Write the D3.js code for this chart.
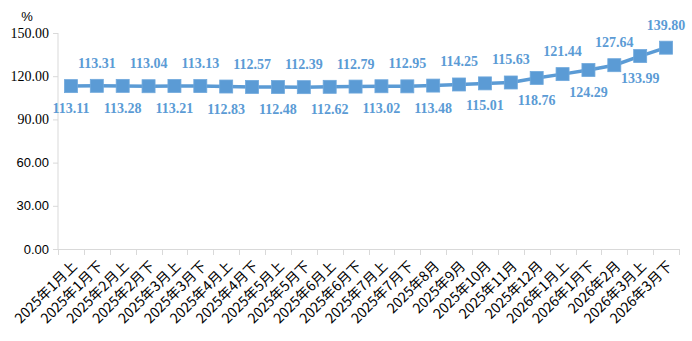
<!DOCTYPE html>
<html><head><meta charset="utf-8">
<script src="https://cdn.jsdelivr.net/npm/d3@7"></script>
<style>body{margin:0;background:#fff;}</style>
</head><body>
<svg id="c" width="692" height="341"></svg>
<script>
const categories = ["2025年1月上","2025年1月下","2025年2月上","2025年2月下","2025年3月上","2025年3月下","2025年4月上","2025年4月下","2025年5月上","2025年5月下","2025年6月上","2025年6月下","2025年7月上","2025年7月下","2025年8月","2025年9月","2025年10月","2025年11月","2025年12月","2026年1月上","2026年1月下","2026年2月","2026年3月上","2026年3月下"];
const values = [113.11,113.31,113.28,113.04,113.21,113.13,112.83,112.57,112.48,112.39,112.62,112.79,113.02,112.95,113.48,114.25,115.01,115.63,118.76,121.44,124.29,127.64,133.99,139.80];
const yTicks = [0,30,60,90,120,150];
const unitLabel = "%";

const svg = d3.select("#c");
const color = "#5b9bd5";
const x = d3.scaleBand().domain(categories).range([58, 679]).padding(0);
const y = d3.scaleLinear().domain([0,150]).range([249, 33]);

// y axis
const ya = svg.append("g").attr("transform","translate(58,0)")
  .call(d3.axisLeft(y).tickValues(yTicks).tickFormat(d3.format(".2f")).tickSize(5).tickPadding(4));
ya.select(".domain").attr("stroke","#d9d9d9").attr("d","M0,33V249");
ya.selectAll(".tick line").attr("stroke","#d9d9d9");
ya.selectAll(".tick text").attr("fill","#000")
  .style("font-family", d => d >= 90 ? "'Liberation Serif', serif" : "'Liberation Sans', sans-serif")
  .style("font-size", d => d >= 90 ? "14px" : "13px");

svg.append("text").attr("x",27).attr("y",21).attr("text-anchor","middle")
  .style("font-family","'Liberation Sans', sans-serif").style("font-size","13px").text(unitLabel);

// x axis
const xg = svg.append("g");
xg.append("line").attr("x1",58).attr("x2",679).attr("y1",249.5).attr("y2",249.5).attr("stroke","#d9d9d9");
const edges = categories.map(c => x(c)).concat([x.range()[1]]);
xg.selectAll("line.t").data(edges).join("line").attr("class","t")
  .attr("x1",d=>Math.round(d)+0.5).attr("x2",d=>Math.round(d)+0.5).attr("y1",249).attr("y2",255).attr("stroke","#d9d9d9");
xg.selectAll("text").data(categories).join("text")
  .attr("transform", d => `translate(${x(d)+x.bandwidth()/2+7},${267}) rotate(-45)`)
  .attr("text-anchor","end")
  .style("font-family","'Noto Sans CJK SC', sans-serif").style("font-size","14px")
  .text(d=>d);

// line
const cx = d => x(d) + x.bandwidth()/2;
svg.append("path").datum(values.map((v,i)=>[categories[i],v]))
  .attr("fill","none").attr("stroke",color).attr("stroke-width",3.5)
  .attr("d", d3.line().x(d=>cx(d[0])).y(d=>y(d[1])));
svg.selectAll("rect.m").data(values).join("rect").attr("class","m")
  .attr("x",(d,i)=>cx(categories[i])-6.5).attr("y",d=>y(d)-6.5)
  .attr("width",13).attr("height",13).attr("fill",color).attr("stroke","#6fa8dc").attr("stroke-width",0.8);

// labels
svg.selectAll("text.lbl").data(values).join("text").attr("class","lbl")
  .attr("x",(d,i)=>cx(categories[i]))
  .attr("y",(d,i)=> i%2===1 ? y(d)-18 : y(d)+27)
  .attr("text-anchor","middle").attr("fill",color)
  .style("font-family","'Liberation Serif', serif").style("font-weight","bold").style("font-size","14px")
  .text(d=>d.toFixed(2));
</script>
</body></html>
